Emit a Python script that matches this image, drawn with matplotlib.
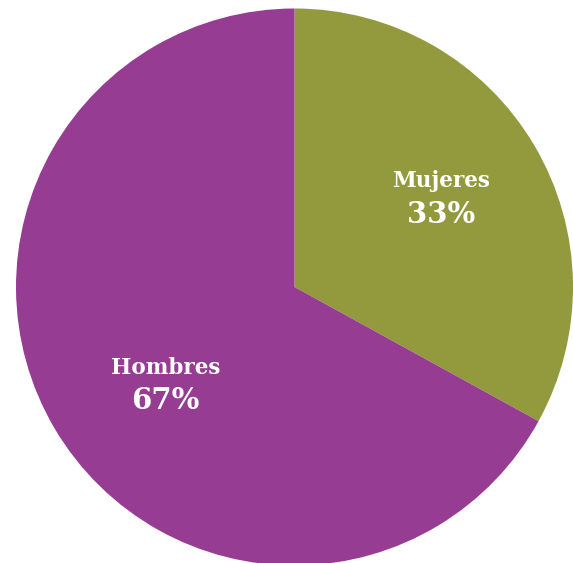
import matplotlib.pyplot as plt

labels = ['Mujeres', 'Hombres']
values = [33, 67]
colors = ['#929A3D', '#963C92']
# label anchor positions in data units (pie radius = 1)
label_pos = [(0.528, 0.32), (-0.463, -0.35)]

fig = plt.figure(figsize=(5.73, 5.63), dpi=100)
W, H = 573, 563
r_px = 278.5
cx, cy = 294.5, 563 - 287
ax = fig.add_axes([(cx - r_px) / W, (cy - r_px) / H, 2 * r_px / W, 2 * r_px / H])

ax.pie(values, colors=colors, startangle=90, counterclock=False,
       radius=1, wedgeprops=dict(linewidth=0))
ax.set_xlim(-1, 1)
ax.set_ylim(-1, 1)
ax.set_aspect('equal')
ax.axis('off')

for lab, val, (x, y) in zip(labels, values, label_pos):
    ax.text(x, y + 0.06, lab, ha='center', va='center', color='white',
            fontsize=15.5, fontweight='bold', family='DejaVu Serif')
    ax.text(x, y - 0.058, f'{val}%', ha='center', va='center', color='white',
            fontsize=21, fontweight='bold', family='DejaVu Serif')

fig.savefig('out.png', dpi=100)
